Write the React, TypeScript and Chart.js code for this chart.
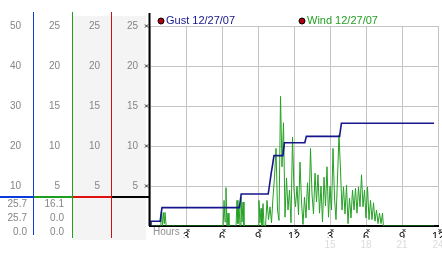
import React, { useEffect, useRef } from 'react';
import { Chart, registerables } from 'chart.js';

Chart.register(...registerables);

// ---- data ----
const gustLabel = 'Gust 12/27/07';
const windLabel = 'Wind 12/27/07';

// [hour, mph]
const gustPoints: [number, number][] = [
  [0, 0], [0.08, 0.6], [0.85, 0.6], [0.92, 1.5], [1.0, 2.3], [7.45, 2.3], [7.6, 4.0],
  [9.85, 4.0], [9.95, 5.0], [10.1, 6.6], [10.2, 7.5], [10.33, 8.8], [11.08, 8.8],
  [11.2, 10.4], [12.9, 10.4], [13.03, 11.2], [15.8, 11.2], [15.95, 12.85], [23.67, 12.85],
];

const windPoints: [number, number][] = [
  [0, 0], [0.9, 0], [0.95, 1.7], [1.05, 0], [1.1, 1.7], [1.2, 0.3], [1.25, 1.7], [1.35, 0],
  [6.1, 0], [6.17, 3.2], [6.25, 0.5], [6.33, 4.8], [6.42, 0], [6.5, 1.6], [6.58, 0],
  [7.17, 0], [7.25, 3.2], [7.33, 0.3], [7.42, 2.6], [7.5, 0], [7.58, 3.6], [7.67, 0.5], [7.75, 3.0], [7.83, 0],
  [9.0, 0], [9.08, 3.2], [9.17, 0.4], [9.25, 2.2], [9.33, 0], [9.42, 2.8], [9.5, 0],
  [9.625, 0], [9.75, 3.2], [9.875, 0.8], [10.0, 2.4], [10.125, 0.4], [10.25, 3.6], [10.375, 6.1],
  [10.5, 9.7], [10.625, 2.0], [10.75, 0.7], [10.875, 16.2], [11.0, 7.4], [11.125, 12.9], [11.25, 1.1],
  [11.375, 6.0], [11.5, 2.0], [11.625, 4.5], [11.75, 0.4], [11.875, 11.1], [12.0, 4.5], [12.125, 2.4],
  [12.25, 5.0], [12.375, 1.4], [12.5, 8.0], [12.625, 3.0], [12.75, 0.2], [12.875, 3.6], [13.0, 1.0],
  [13.125, 5.4], [13.25, 2.0], [13.375, 9.7], [13.5, 4.0], [13.625, 1.5], [13.75, 6.6], [13.875, 3.0],
  [14.0, 6.4], [14.125, 1.6], [14.25, 5.0], [14.375, 0.5], [14.5, 6.1], [14.625, 2.5], [14.75, 7.4],
  [14.875, 1.1], [15.0, 5.0], [15.125, 2.0], [15.25, 9.7], [15.375, 3.5], [15.5, 0.8], [15.625, 6.0],
  [15.75, 11.4], [15.875, 7.0], [16.0, 2.0], [16.125, 4.9], [16.25, 1.5], [16.375, 5.1], [16.5, 0.3],
  [16.625, 3.5], [16.75, 1.0], [16.875, 4.5], [17.0, 2.0], [17.125, 4.7], [17.25, 1.6], [17.375, 4.9],
  [17.5, 2.4], [17.625, 6.4], [17.75, 2.4], [17.875, 4.5], [18.0, 1.0], [18.125, 4.9], [18.25, 0.8],
  [18.375, 3.2], [18.5, 0.8], [18.625, 2.9], [18.75, 0.6], [18.875, 2.0], [19.0, 0.3], [19.125, 1.6],
  [19.25, 0.3], [19.375, 1.6], [19.45, 0], [23.67, 0],
];

const gustSummary = ['25.7', '25.7', '0.0'];
const windSummary = ['16.1', '0.0', '0.0'];
const hoursLabel = 'Hours';

// ---- styles ----
const FONT = 'Liberation Sans, Arial, sans-serif';
const GUST_COLOR = '#16168c';
const WIND_COLOR = '#24a024';
const TICK_GREY = '#858585';
const GRID = '#c4c4c4';

const hideZero = (v: any) => (Number(v) === 0 ? '' : String(v));

function fixedWidth(w: number) {
  return (scale: any) => {
    scale.width = w;
    scale.paddingTop = 0;
    scale.paddingBottom = 0;
  };
}
function fixedHeight(h: number) {
  return (scale: any) => {
    scale.height = h;
    scale.paddingLeft = 0;
    scale.paddingRight = 0;
  };
}

const panelPlugin = {
  id: 'panelPlugin',
  beforeDraw(chart: any) {
    const ctx = chart.ctx;
    const { yR, y } = chart.scales;
    ctx.save();
    ctx.fillStyle = '#f4f4f4';
    ctx.fillRect(yR.left + 1, 16, y.right - yR.left - 5, 224);
    ctx.restore();
  },
  afterDraw(chart: any) {
    const ctx = chart.ctx;
    const { yB, yG, yR, y, x } = chart.scales;
    const area = chart.chartArea;
    ctx.save();
    const vline = (px: number, y0: number, y1: number, color: string, w: number) => {
      ctx.strokeStyle = color;
      ctx.lineWidth = w;
      ctx.beginPath();
      ctx.moveTo(px, y0);
      ctx.lineTo(px, y1);
      ctx.stroke();
    };
    const hline = (x0: number, x1: number, py: number, color: string, w: number) => {
      ctx.strokeStyle = color;
      ctx.lineWidth = w;
      ctx.beginPath();
      ctx.moveTo(x0, py);
      ctx.lineTo(x1, py);
      ctx.stroke();
    };
    // separator line
    const sy = area.bottom - 29;
    hline(yB.left, yB.right + 1, sy, '#0a3cdc', 2);
    hline(yG.left + 1, yG.right + 1, sy, '#1ea01e', 2);
    hline(yR.left + 1, yR.right + 1, sy, '#e01010', 2);
    hline(y.left + 1, y.right - 1, sy, '#000', 2);
    // column borders
    vline(Math.round(yB.right) + 0.5, 12, 235, '#0a3cdc', 1);
    vline(Math.round(yG.right) + 0.5, 12, 238, '#1ea01e', 1);
    vline(Math.round(yR.right) + 0.5, 12, 238, '#d01010', 1);
    vline(y.right - 0.5, 13, area.bottom, '#000', 2);

    // summary values
    ctx.font = `10px ${FONT}`;
    ctx.fillStyle = TICK_GREY;
    ctx.textAlign = 'right';
    ctx.textBaseline = 'middle';
    const rows = [-22, -8, 6];
    gustSummary.forEach((t, i) => ctx.fillText(t, yB.right - 6, area.bottom + rows[i]));
    windSummary.forEach((t, i) => ctx.fillText(t, yG.right - 8, area.bottom + rows[i]));

    // small tick glyphs on main y axis and x axis
    ctx.strokeStyle = '#222';
    ctx.lineWidth = 1;
    const cross = (cx: number, cy: number) => {
      ctx.beginPath();
      ctx.moveTo(cx - 1.5, cy - 1.5);
      ctx.lineTo(cx + 1.5, cy + 1.5);
      ctx.moveTo(cx + 1.5, cy - 1.5);
      ctx.lineTo(cx - 1.5, cy + 1.5);
      ctx.stroke();
    };
    y.ticks.forEach((t: any) => {
      if (t.value > 0) cross(y.right - 3.5, y.getPixelForValue(t.value));
    });
    x.ticks.forEach((t: any) => {
      if (t.value > 0) cross(x.getPixelForValue(t.value) + 2, area.bottom + 4.5);
    });

    // Hours label
    ctx.textAlign = 'left';
    ctx.fillStyle = '#909090';
    ctx.font = `10px ${FONT}`;
    ctx.fillText(hoursLabel, area.left + 3, area.bottom + 6);

    // legend
    const legend = [
      { label: gustLabel, color: GUST_COLOR, dx: 161 },
      { label: windLabel, color: WIND_COLOR, dx: 302 },
    ];
    ctx.font = `11px ${FONT}`;
    legend.forEach((l) => {
      ctx.beginPath();
      ctx.arc(l.dx, 21, 3, 0, Math.PI * 2);
      ctx.fillStyle = '#b00010';
      ctx.fill();
      ctx.strokeStyle = '#000';
      ctx.lineWidth = 1;
      ctx.stroke();
      ctx.fillStyle = l.color;
      ctx.textAlign = 'left';
      ctx.fillText(l.label, l.dx + 5, 21);
    });
    ctx.restore();
  },
};

export default function App() {
  const ref = useRef<HTMLCanvasElement | null>(null);
  useEffect(() => {
    if (!ref.current) return;
    const tickFont = { family: FONT, size: 10 };
    const chart = new Chart(ref.current, {
      type: 'line',
      data: {
        datasets: [
          {
            label: gustLabel,
            data: gustPoints.map(([h, v]) => ({ x: h, y: v })),
            borderColor: GUST_COLOR,
            borderWidth: 1.6,
            pointRadius: 0,
            tension: 0,
            fill: false,
          },
          {
            label: windLabel,
            data: windPoints.map(([h, v]) => ({ x: h, y: v })),
            borderColor: WIND_COLOR,
            borderWidth: 1,
            pointRadius: 0,
            tension: 0,
            fill: false,
          },
        ],
      },
      options: {
        animation: false,
        responsive: false,
        devicePixelRatio: 1,
        layout: { padding: { left: 0, top: 26, right: 4, bottom: 0 } },
        plugins: { legend: { display: false }, tooltip: { enabled: false } },
        scales: {
          x: {
            type: 'linear',
            position: 'bottom',
            weight: 0,
            min: 0,
            max: 24,
            afterFit: fixedHeight(12),
            grid: { color: GRID, drawTicks: false, lineWidth: 1 },
            border: { display: true, color: '#000', width: 2 },
            ticks: {
              stepSize: 3,
              padding: 4,
              color: '#000',
              font: { family: FONT, size: 11 },
              maxRotation: 0,
              autoSkip: false,
              callback: (v: any) => {
                const n = Number(v);
                if (n === 0) return '';
                return String(n % 12 === 0 ? 12 : n % 12);
              },
            },
          },
          x2: {
            type: 'linear',
            position: 'bottom',
            weight: 1,
            min: 0,
            max: 24,
            afterFit: fixedHeight(15),
            grid: { display: false, drawTicks: false },
            border: { display: false },
            ticks: {
              stepSize: 3,
              padding: 1,
              color: '#dcdcdc',
              font: { family: FONT, size: 10 },
              maxRotation: 0,
              autoSkip: false,
              callback: (v: any) => (Number(v) >= 15 ? String(v) : ''),
            },
          },
          y: {
            position: 'left',
            weight: 0,
            min: 0,
            max: 25,
            afterFit: fixedWidth(39),
            grid: { color: GRID, drawTicks: false, lineWidth: 1 },
            border: { display: false },
            ticks: { stepSize: 5, padding: 12, color: TICK_GREY, font: tickFont, callback: hideZero },
          },
          yR: {
            position: 'left',
            weight: 1,
            min: 0,
            max: 25,
            afterFit: fixedWidth(39),
            grid: { display: false, drawTicks: false },
            border: { display: false },
            ticks: { stepSize: 5, padding: 11, color: TICK_GREY, font: tickFont, callback: hideZero },
          },
          yG: {
            position: 'left',
            weight: 2,
            min: 0,
            max: 25,
            afterFit: fixedWidth(39),
            grid: { display: false, drawTicks: false },
            border: { display: false },
            ticks: { stepSize: 5, padding: 12, color: TICK_GREY, font: tickFont, callback: hideZero },
          },
          yB: {
            position: 'left',
            weight: 3,
            min: 0,
            max: 50,
            afterFit: fixedWidth(33),
            grid: { display: false, drawTicks: false },
            border: { display: false },
            ticks: { stepSize: 10, padding: 12, color: TICK_GREY, font: tickFont, callback: hideZero },
          },
        },
      } as any,
      plugins: [panelPlugin],
    });
    return () => chart.destroy();
  }, []);
  return (
    <div style={{ position: 'absolute', left: 0, top: 0, width: 442, height: 253, background: '#fff' }}>
      <canvas ref={ref} width={442} height={253} style={{ display: 'block' }} />
    </div>
  );
}
